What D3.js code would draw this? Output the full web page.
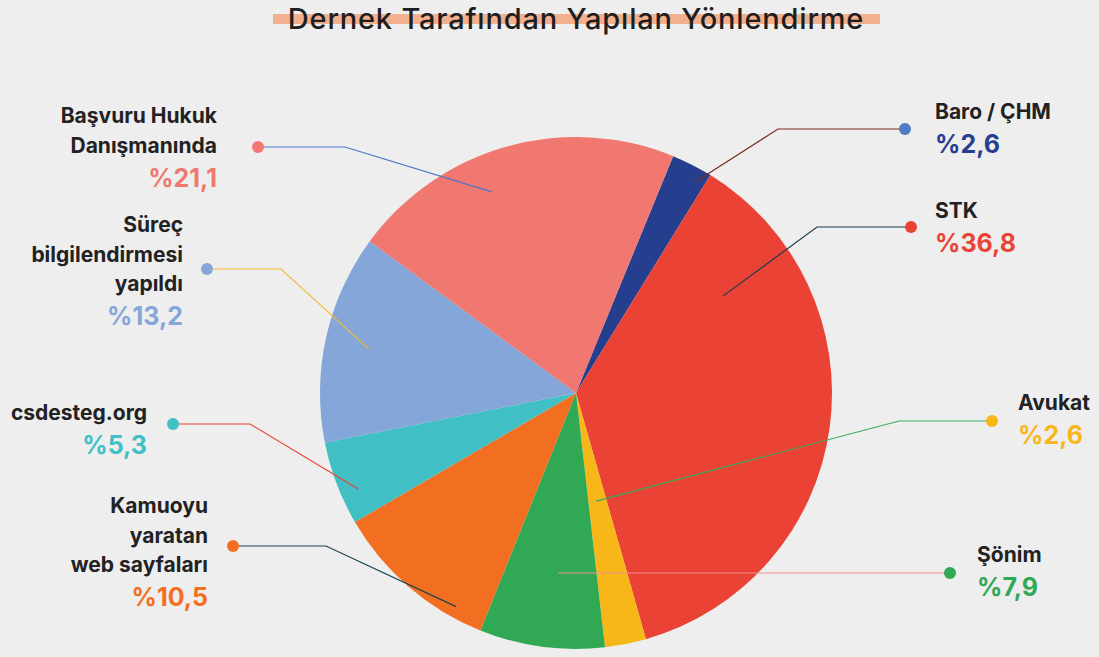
<!DOCTYPE html>
<html>
<head>
<meta charset="utf-8">
<script src="https://cdn.jsdelivr.net/npm/d3@7"></script>
<style>
  html, body { margin: 0; padding: 0; background: #eeeeee; }
  svg { display: block; }
</style>
</head>
<body>
<svg id="chart" width="1099" height="657"></svg>
<script>
// ---- data ----
const chartTitle = "Dernek Tarafından Yapılan Yönlendirme";
const categories = ["Baro / ÇHM", "STK", "Avukat", "Şönim", "Kamuoyu yaratan web sayfaları", "csdesteg.org", "Süreç bilgilendirmesi yapıldı", "Başvuru Hukuk Danışmanında"];
const labelLines = [["Baro / ÇHM"], ["STK"], ["Avukat"], ["Şönim"], ["Kamuoyu", "yaratan", "web sayfaları"], ["csdesteg.org"], ["Süreç", "bilgilendirmesi", "yapıldı"], ["Başvuru Hukuk", "Danışmanında"]];
const values = [2.6, 36.8, 2.6, 7.9, 10.5, 5.3, 13.2, 21.1];
const pctLabels = ["%2,6", "%36,8", "%2,6", "%7,9", "%10,5", "%5,3", "%13,2", "%21,1"];

// ---- styles ----
const sliceColors = ["#253f8e", "#ea4335", "#f8b719", "#31a853", "#f26f21", "#40bfc5", "#84a6d8", "#f07870"];
const pctColors   = ["#253f8e", "#ea4335", "#f8b719", "#31a853", "#f26f21", "#40bfc5", "#84a6d8", "#f07870"];
const dotColors   = ["#4f7cc4", "#ea4335", "#f8b719", "#31a853", "#f26f21", "#40bfc5", "#84a6d8", "#f07870"];
const lineColors  = ["#7a2e1e", "#1c3a50", "#3aaa5c", "#f0928f", "#1a4550", "#ea4335", "#f5b934", "#4a76c8"];

// ---- layout (annotation placement) ----
const cx = 576, cy = 393, R = 256;
const startDeg = 22.3;
const leaders = [
  {dot: [905, 129], elbowX: 778, ang: 29.4,  r: 242},
  {dot: [911, 227], elbowX: 817, ang: 56.6,  r: 176},
  {dot: [992, 421], elbowX: 899, ang: 169.5, r: 110},
  {dot: [950, 573], elbowX: null, ang: 185.7, r: 180},
  {dot: [233, 546], elbowX: 326, ang: 209.3, r: 245},
  {dot: [173, 424], elbowX: 250, ang: 246.2, r: 238},
  {dot: [207, 269], elbowX: 281, ang: 282.0, r: 212},
  {dot: [258, 147], elbowX: 345, ang: 337.3, r: 218}
];
const textPos = [
  {x: 935, y: 119, anchor: "start"},
  {x: 935, y: 218, anchor: "start"},
  {x: 1018, y: 410, anchor: "start"},
  {x: 977, y: 562, anchor: "start"},
  {x: 208, y: 513, anchor: "end"},
  {x: 147, y: 420, anchor: "end"},
  {x: 183, y: 232, anchor: "end"},
  {x: 217, y: 123, anchor: "end"}
];

const svg = d3.select("#chart");
const FONT = "Inter, Lato, 'Noto Sans', sans-serif";

svg.append("rect").attr("width", 1099).attr("height", 657).attr("fill", "#eeeeee");

// title with highlight bar
svg.append("rect").attr("x", 273).attr("y", 14).attr("width", 607).attr("height", 10).attr("fill", "#f2b08e");
svg.append("text")
  .attr("x", 576).attr("y", 29)
  .attr("text-anchor", "middle")
  .attr("font-family", FONT)
  .attr("font-size", 29)
  .attr("font-weight", 500)
  .attr("letter-spacing", 0.8)
  .attr("fill", "#1e1e1e")
  .text(chartTitle);

// pie
const pie = d3.pie().sort(null).value(d => d)
  .startAngle(startDeg * Math.PI / 180)
  .endAngle(startDeg * Math.PI / 180 + 2 * Math.PI);
const arc = d3.arc().innerRadius(0).outerRadius(R);
const g = svg.append("g").attr("transform", `translate(${cx},${cy})`);
g.selectAll("path.slice")
  .data(pie(values))
  .join("path")
  .attr("class", "slice")
  .attr("d", arc)
  .attr("fill", (d, i) => sliceColors[i]);

// leader lines
const polar = (deg, r) => {
  const a = deg * Math.PI / 180;
  return [cx + r * Math.sin(a), cy - r * Math.cos(a)];
};
leaders.forEach((L, i) => {
  const inner = polar(L.ang, L.r);
  let pts;
  if (L.elbowX === null) pts = [L.dot, [inner[0], L.dot[1]]];
  else pts = [L.dot, [L.elbowX, L.dot[1]], inner];
  svg.append("path")
    .attr("d", d3.line()(pts))
    .attr("fill", "none")
    .attr("stroke", lineColors[i])
    .attr("stroke-width", 1.2);
  svg.append("circle")
    .attr("cx", L.dot[0]).attr("cy", L.dot[1]).attr("r", 6)
    .attr("fill", dotColors[i]);
});

// labels
textPos.forEach((p, i) => {
  const t = svg.append("g");
  labelLines[i].forEach((ln, j) => {
    t.append("text")
      .attr("x", p.x).attr("y", p.y + j * 29.5)
      .attr("text-anchor", p.anchor)
      .attr("font-family", FONT)
      .attr("font-size", 21)
      .attr("font-weight", 700)
      .attr("fill", "#222222")
      .text(ln);
  });
  const n = labelLines[i].length;
  t.append("text")
    .attr("x", p.x).attr("y", p.y + (n - 1) * 29.5 + 34)
    .attr("text-anchor", p.anchor)
    .attr("font-family", FONT)
    .attr("font-size", 25)
    .attr("font-weight", 700)
    .attr("fill", pctColors[i])
    .text(pctLabels[i]);
});
</script>
</body>
</html>
